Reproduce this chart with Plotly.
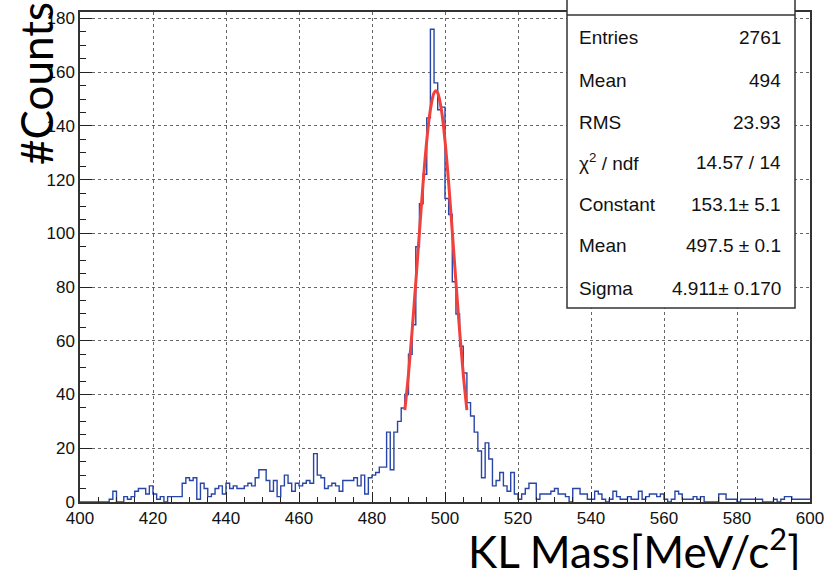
import plotly.graph_objects as go

# ---- data ----
bin_low = 400
bin_width = 1
counts_400_449 = [0, 0, 0, 0, 0, 0, 0, 0, 1, 4,
                  0, 0, 2, 1, 2, 4, 5, 5, 3, 6,
                  3, 1, 2, 0, 2, 2, 2, 2, 7, 9,
                  8, 9, 1, 7, 5, 2, 3, 5, 6, 3,
                  7, 5, 6, 5, 5, 6, 7, 6, 9, 12]
counts_450_499 = [12, 8, 4, 8, 2, 6, 10, 7, 4, 7,
                  6, 7, 8, 7, 18, 10, 9, 5, 6, 7,
                  6, 4, 8, 8, 8, 9, 6, 10, 3, 9,
                  10, 11, 13, 13, 26, 12, 26, 30, 35, 40,
                  55, 66, 95, 111, 122, 143, 176, 156, 146, 147]
counts_500_549 = [113, 107, 82, 70, 58, 48, 37, 32, 26, 19,
                  9, 22, 16, 6, 8, 11, 6, 4, 11, 3,
                  1, 3, 5, 7, 7, 1, 3, 3, 3, 4,
                  5, 3, 3, 2, 0, 5, 5, 3, 3, 1,
                  1, 4, 3, 1, 0, 1, 4, 2, 1, 1]
counts_550_599 = [2, 1, 1, 4, 1, 2, 3, 3, 2, 3,
                  1, 0, 1, 4, 3, 1, 1, 1, 2, 1,
                  2, 0, 0, 0, 0, 3, 3, 1, 1, 1,
                  0, 1, 1, 1, 1, 1, 1, 0, 0, 0,
                  1, 0, 1, 2, 2, 1, 1, 1, 1, 1]

# Gaussian fit curve as drawn
fit_x = [489, 490, 491, 492, 493, 494, 495, 496, 497, 497.5,
         498, 499, 500, 501, 502, 503, 504, 505, 506]
fit_y = [34.2, 47.7, 63.8, 81.8, 100.6, 118.8, 134.5, 146.1, 152.3, 153.1,
         152.3, 146.1, 134.5, 118.8, 100.6, 81.8, 63.8, 47.7, 34.2]

stat_labels = ["Entries", "Mean", "RMS", "χ<sup>2</sup> / ndf", "Constant", "Mean", "Sigma"]
stat_values = ["2761", "494", "23.93", "14.57 / 14", "153.1± 5.1", "497.5 ± 0.1", "4.911± 0.170"]

x_title = "KL Mass[MeV/c<sup>2</sup>]"
y_title = "#Counts"

# ---- build ----
counts = counts_400_449 + counts_450_499 + counts_500_549 + counts_550_599
edges = [bin_low + i * bin_width for i in range(len(counts) + 1)]
hist_y = counts + [counts[-1]]

W, H = 827, 570
L, R, T, B = 80, 17, 12, 68
pw, ph = W - L - R, H - T - B

def px(xp):
    return (xp - L) / pw

def py(yp):
    return (H - B - yp) / ph

fig = go.Figure()
fig.add_trace(go.Scatter(x=edges, y=hist_y, mode="lines", line_shape="hv",
                         line=dict(color="#2845a8", width=1.4), hoverinfo="skip",
                         showlegend=False))
fig.add_trace(go.Scatter(x=fit_x, y=fit_y, mode="lines", line_shape="spline",
                         line=dict(color="#f0413c", width=3), hoverinfo="skip",
                         showlegend=False))

tickfont = dict(family="Liberation Sans, Arial, sans-serif", size=17, color="#111")
fig.update_xaxes(range=[400, 600], dtick=20, tick0=400, ticks="inside", ticklen=10,
                 tickcolor="#222", tickwidth=1, showline=True, linecolor="#333", linewidth=1.5,
                 mirror=True, showgrid=True, gridcolor="#666", griddash="dot", gridwidth=1,
                 zeroline=False, tickfont=tickfont, automargin=False,
                 minor=dict(dtick=5, ticks="inside", ticklen=5, tickcolor="#222", showgrid=False))
fig.update_yaxes(range=[0, 182.4], dtick=20, tick0=0, ticks="inside", ticklen=12,
                 tickcolor="#222", tickwidth=1, showline=True, linecolor="#333", linewidth=1.5,
                 mirror=True, showgrid=True, gridcolor="#666", griddash="dot", gridwidth=1,
                 zeroline=False, tickfont=tickfont, automargin=False,
                 minor=dict(dtick=5, ticks="inside", ticklen=6, tickcolor="#222", showgrid=False))

# stats box
bx0, bx1, by_top, by_bot = 567, 795, 15, 308
fig.add_shape(type="rect", xref="paper", yref="paper", x0=px(bx0), x1=px(bx1),
              y0=py(by_bot), y1=py(-20), fillcolor="white",
              line=dict(color="#333", width=1.5), layer="above")
fig.add_shape(type="line", xref="paper", yref="paper", x0=px(bx0), x1=px(bx1),
              y0=py(by_top), y1=py(by_top), line=dict(color="#333", width=1.5), layer="above")

statfont = dict(family="Liberation Sans, Arial, sans-serif", size=19, color="#111")
row_y = [38, 80, 122, 162, 204, 246, 288]
for lab, val, yy in zip(stat_labels, stat_values, row_y):
    fig.add_annotation(text=lab, xref="paper", yref="paper", x=px(577), y=py(yy),
                       xanchor="left", yanchor="middle", showarrow=False, font=statfont)
    fig.add_annotation(text=val, xref="paper", yref="paper", x=px(783), y=py(yy),
                       xanchor="right", yanchor="middle", showarrow=False, font=statfont)

bigfont = dict(family="Lato, Open Sans, sans-serif", size=44, color="#000")
fig.add_annotation(text=y_title, xref="paper", yref="paper", x=px(36), y=py(84),
                   xanchor="center", yanchor="middle", textangle=-90, showarrow=False,
                   font=bigfont)
fig.add_annotation(text=x_title, xref="paper", yref="paper", x=px(803), y=py(548),
                   xanchor="right", yanchor="middle", showarrow=False, font=bigfont)

fig.update_layout(width=W, height=H, margin=dict(l=L, r=R, t=T, b=B),
                  paper_bgcolor="white", plot_bgcolor="white", showlegend=False)

fig.write_html("out.html")
